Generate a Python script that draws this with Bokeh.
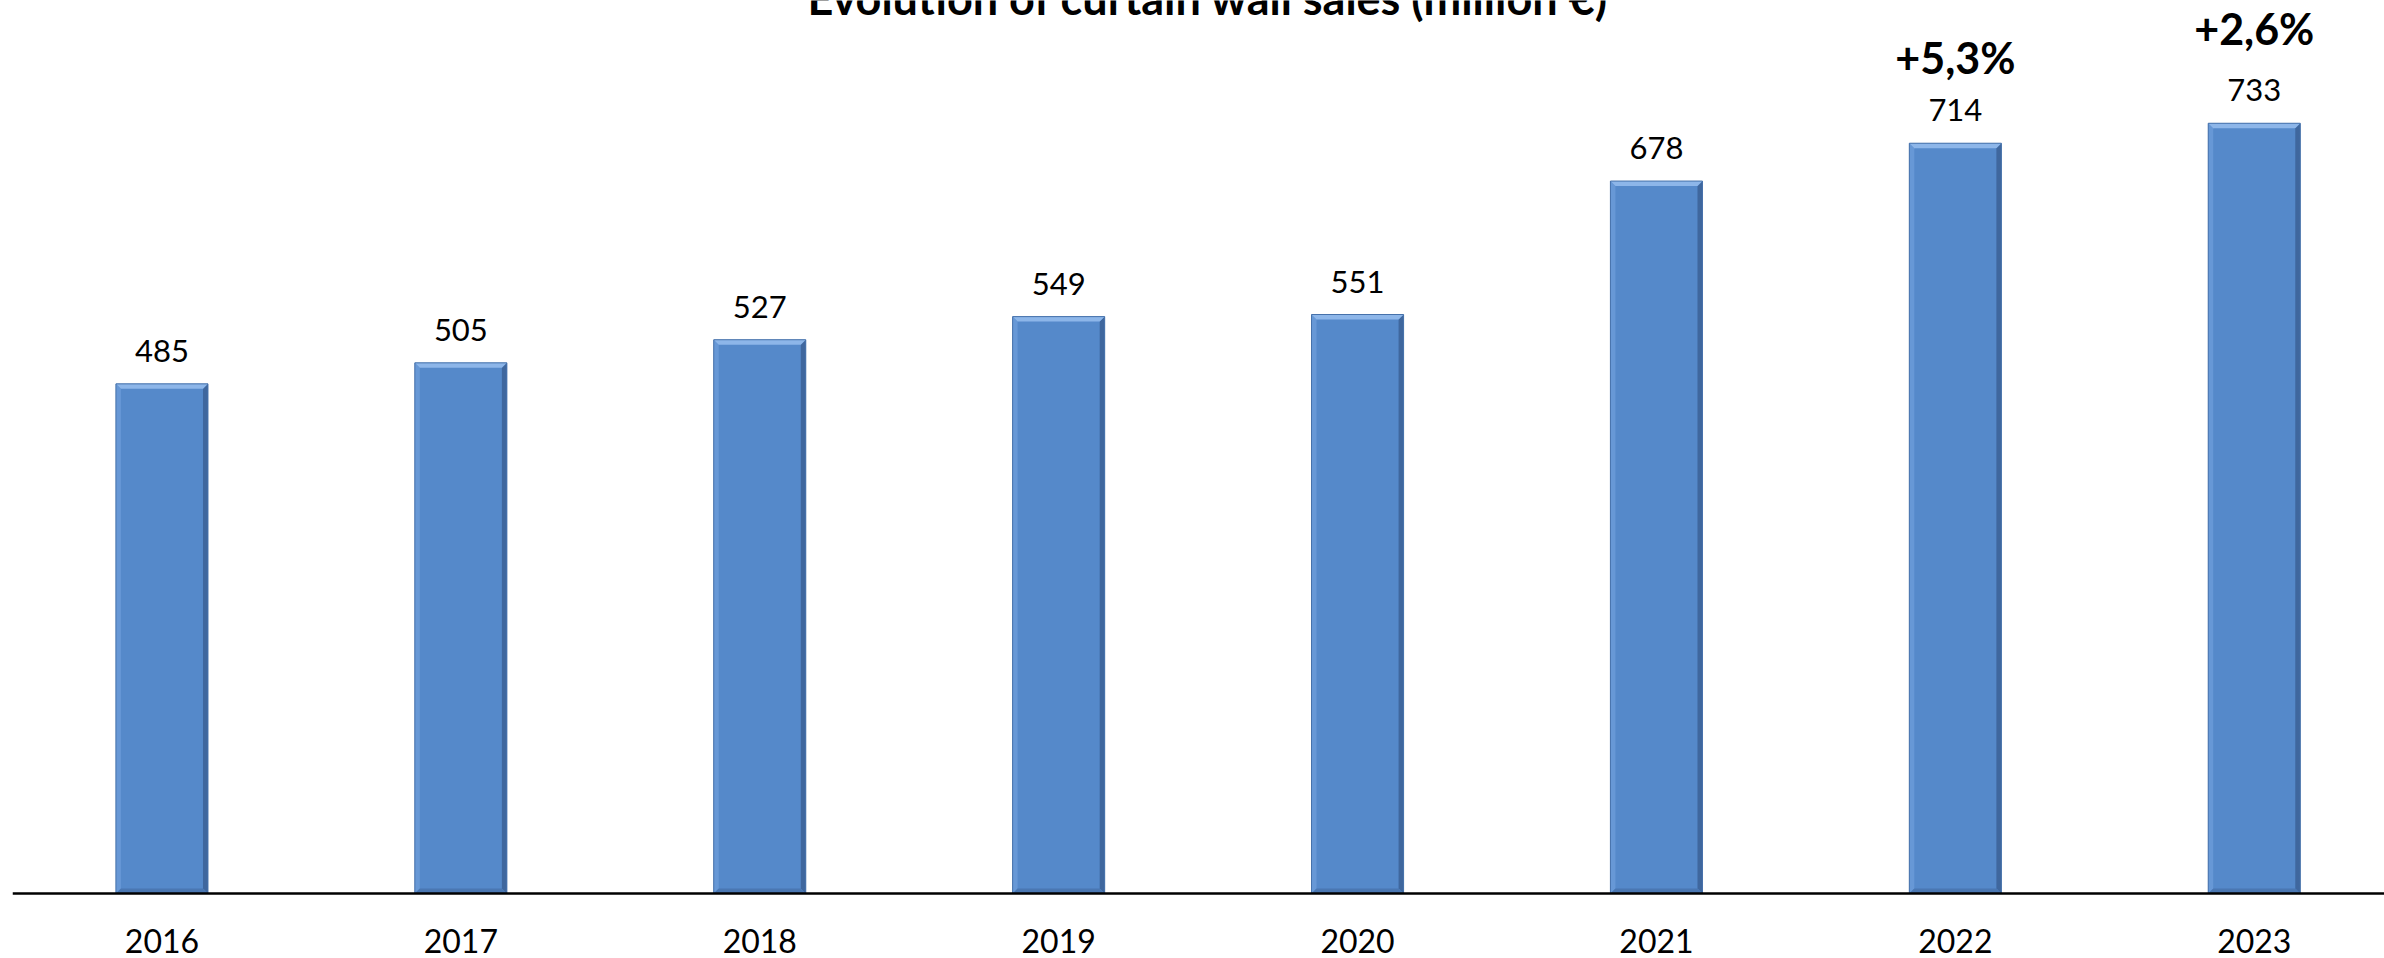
import numpy as np
from bokeh.plotting import figure
from bokeh.models import ColumnDataSource, Range1d, Span
from bokeh.core.properties import value
from bokeh.embed import file_html
from bokeh.resources import INLINE

# ---- data ----
title_text = "Evolution of curtain wall sales (million €)"
years = ["2016", "2017", "2018", "2019", "2020", "2021", "2022", "2023"]
sales = [485, 505, 527, 549, 551, 678, 714, 733]
growth_years = ["2022", "2023"]
growth_labels = ["+5,3%", "+2,6%"]

# ---- layout / style ----
W, H = 2384, 958
BORDER_L = 12
CAT_PX = 298.9      # pixels per category
UNIT_PX = 1.0508    # pixels per value unit
ZERO_PX = 893       # canvas y of value 0
BAR_W = 0.308
BEVEL_PX = 5
FONT = "Lato"
growth_offsets_px = [86, 95]

x_start = -0.5
x_end = x_start + (W - BORDER_L) / CAT_PX
y_end = ZERO_PX / UNIT_PX
y_start = -(H - ZERO_PX) / UNIT_PX

p = figure(width=W, height=H,
           x_range=Range1d(x_start, x_end), y_range=Range1d(y_start, y_end),
           output_backend="svg", toolbar_location=None,
           x_axis_location=None, y_axis_location=None,
           min_border_left=BORDER_L, min_border_right=0,
           min_border_top=0, min_border_bottom=0)
p.grid.visible = False
p.outline_line_color = None
p.background_fill_color = "white"
p.border_fill_color = "white"

xs = np.arange(len(years), dtype=float)
vals = np.array(sales, dtype=float)
left = xs - BAR_W / 2
right = xs + BAR_W / 2
bx = BEVEL_PX / CAT_PX
by = BEVEL_PX / UNIT_PX

src = ColumnDataSource(dict(left=left, right=right, top=vals, bottom=np.zeros_like(vals)))
p.quad(left="left", right="right", top="top", bottom="bottom", source=src,
       fill_color="#5589CA", line_color=None)

def bevel(pts_fn, color):
    pxs, pys = [], []
    for l, r, t in zip(left, right, vals):
        a, b = pts_fn(l, r, t)
        pxs.append(a)
        pys.append(b)
    p.patches(xs=pxs, ys=pys, fill_color=color, line_color=None)

bevel(lambda l, r, t: ([l, l, l + bx, l + bx], [t, 0, by, t - by]), "#6798D6")
bevel(lambda l, r, t: ([r, r, r - bx, r - bx], [t, 0, by, t - by]), "#3F679E")
bevel(lambda l, r, t: ([l, r, r - bx, l + bx], [0, 0, by, by]), "#4A77B2")
bevel(lambda l, r, t: ([l, r, r - bx, l + bx], [t, t, t - by, t - by]), "#8DB6E9")

p.quad(left="left", right="right", top="top", bottom="bottom", source=src,
       fill_color=None, line_color="#4671AA", line_width=1)

# baseline
p.add_layout(Span(location=0, dimension="width", line_color="black", line_width=2.5))

# value labels
p.text(x=xs, y=vals + 33 / UNIT_PX, text=[str(v) for v in sales],
       text_font=value(FONT), text_font_size="31px", text_color="black",
       text_align="center", text_baseline="middle")

# growth labels
gx = np.array([years.index(y) for y in growth_years], dtype=float)
gtop = np.array([sales[years.index(y)] for y in growth_years], dtype=float)
p.text(x=gx, y=gtop + np.array(growth_offsets_px) / UNIT_PX, text=growth_labels,
       text_font=value(FONT), text_font_size="43px", text_font_style="bold",
       text_color="black", text_align="center", text_baseline="middle")

# category labels
p.text(x=xs, y=np.full(len(xs), -47 / UNIT_PX), text=years,
       text_font=value(FONT), text_font_size="32px", text_color="black",
       text_align="center", text_baseline="middle")

# title (cut at the top as in the reference)
p.text(x=[(len(years) - 1) / 2], y=[(ZERO_PX + 3) / UNIT_PX], text=[title_text],
       text_font=value(FONT), text_font_size="45px", text_font_style="bold",
       text_color="black", text_align="center", text_baseline="middle")

open("out.html", "w").write(file_html(p, INLINE))
